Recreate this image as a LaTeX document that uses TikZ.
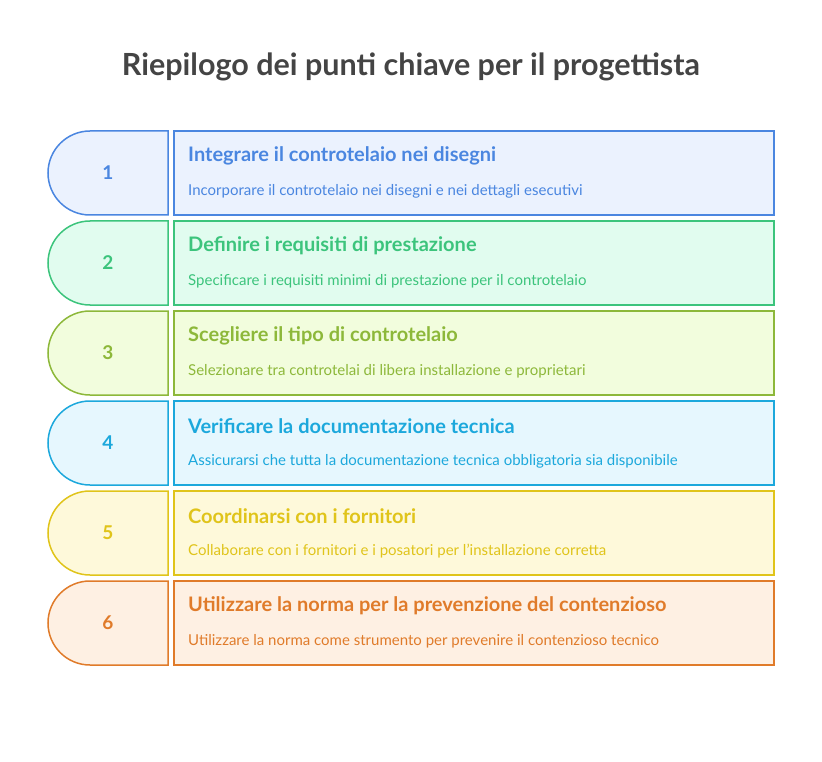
\documentclass[tikz,border=0pt]{standalone}
\usepackage{fontspec}
\setmainfont{Lato}
\definecolor{c1}{HTML}{4A86E0}\definecolor{f1}{HTML}{EBF2FE}
\definecolor{c2}{HTML}{3CC47C}\definecolor{f2}{HTML}{E1FCEF}
\definecolor{c3}{HTML}{8DB83A}\definecolor{f3}{HTML}{F2FDDD}
\definecolor{c4}{HTML}{1CA8DC}\definecolor{f4}{HTML}{E6F7FE}
\definecolor{c5}{HTML}{E0C41A}\definecolor{f5}{HTML}{FEF9DA}
\definecolor{c6}{HTML}{E07B2A}\definecolor{f6}{HTML}{FEF0E3}
\definecolor{ttl}{HTML}{444444}
\tikzset{
 boxst/.style={draw=#1,line width=1.5pt,minimum width=600pt,minimum height=84pt,inner sep=0pt},
 numst/.style={text=#1,font=\fontsize{19}{21}\selectfont\bfseries},
 headst/.style={text=#1,anchor=west,font=\fontsize{20}{22}\selectfont\bfseries,inner sep=0pt},
 bodyst/.style={text=#1,anchor=west,font=\fontsize{15}{17}\selectfont,inner sep=0pt},
}
\begin{document}
\begin{tikzpicture}[x=1pt,y=1pt]
\useasboundingbox (0,0) rectangle (822,-762);
\node[text=ttl,font=\fontsize{30.5}{33}\selectfont\bfseries] (title) at (411,-67) {Riepilogo dei punti chiave per il progettista};
\foreach \i/\h/\b in {
 1/Integrare il controtelaio nei disegni/Incorporare il controtelaio nei disegni e nei dettagli esecutivi,
 2/Definire i requisiti di prestazione/Specificare i requisiti minimi di prestazione per il controtelaio,
 3/Scegliere il tipo di controtelaio/Selezionare tra controtelai di libera installazione e proprietari,
 4/Verificare la documentazione tecnica/Assicurarsi che tutta la documentazione tecnica obbligatoria sia disponibile,
 5/Coordinarsi con i fornitori/Collaborare con i fornitori e i posatori per l'installazione corretta,
 6/Utilizzare la norma per la prevenzione del contenzioso/Utilizzare la norma come strumento per prevenire il contenzioso tecnico}{
 \pgfmathsetmacro{\yt}{-131-(\i-1)*90}
 \draw[draw=c\i,fill=f\i,line width=1.5pt] (168,\yt) -- (90,\yt) arc[start angle=90,end angle=270,radius=42] -- (168,\yt-84) -- cycle;
 \node[numst=c\i] (n\i) at (108,\yt-42) {\i};
 \node[boxst=c\i,fill=f\i] (b\i) at (474,\yt-42) {};
 \node[headst=c\i] (h\i) at (188,\yt-25) {\h};
 \node[bodyst=c\i] (t\i) at (188,\yt-60) {\b};
}
\end{tikzpicture}
\end{document}
